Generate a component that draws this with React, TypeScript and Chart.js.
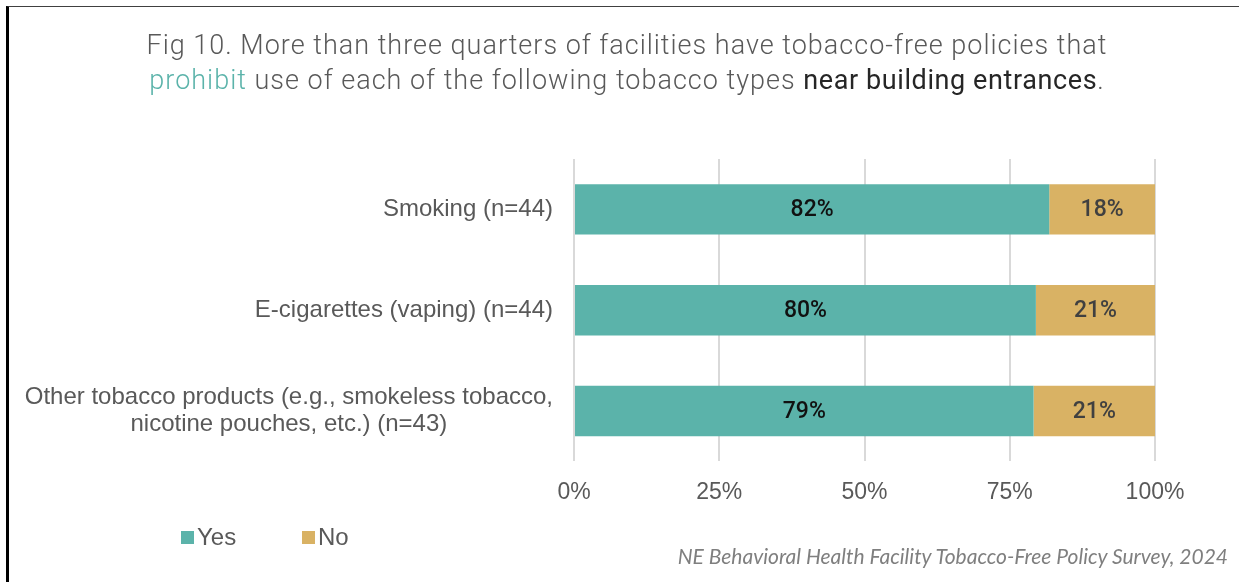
import React, { useEffect, useRef } from "react";
import { Chart, registerables } from "chart.js";

Chart.register(...registerables);

const categories: string[][] = [
  ["Smoking (n=44)"],
  ["E-cigarettes (vaping) (n=44)"],
  ["Other tobacco products (e.g., smokeless tobacco,", "nicotine pouches, etc.) (n=43)"],
];
const seriesNames = ["Yes", "No"];
const yesValues = [81.8, 79.5, 79.1];
const noValues = [18.2, 20.5, 20.9];
const yesLabels = ["82%", "80%", "79%"];
const noLabels = ["18%", "21%", "21%"];
const xTicks = [0, 25, 50, 75, 100];

const TEAL = "#5BB3AA";
const GOLD = "#D9B264";
const TEXT = "#595959";

const labelsPlugin = {
  id: "customLabels",
  afterDatasetsDraw(chart: any) {
    const ctx = chart.ctx;
    const valueLabels = [yesLabels, noLabels];
    const colors = ["#111111", "#404040"];
    ctx.save();
    ctx.textAlign = "center";
    ctx.textBaseline = "middle";
    ctx.font = "500 23px Roboto";
    chart.data.datasets.forEach((ds: any, di: number) => {
      const meta = chart.getDatasetMeta(di);
      meta.data.forEach((bar: any, i: number) => {
        ctx.fillStyle = colors[di];
        ctx.fillText(valueLabels[di][i], (bar.x + bar.base) / 2, bar.y + 1);
      });
    });
    ctx.restore();
  },
  afterDraw(chart: any) {
    const ctx = chart.ctx;
    const yScale = chart.scales.y;
    ctx.save();
    ctx.fillStyle = TEXT;
    ctx.font = "24px 'Liberation Sans', Arial, sans-serif";
    ctx.textBaseline = "middle";
    ctx.textAlign = "center";
    const rightEdge = chart.chartArea.left - 21;
    const lineH = 27;
    categories.forEach((lines, i) => {
      const yc = yScale.getPixelForValue(i);
      const widest = Math.max(...lines.map((l) => ctx.measureText(l).width));
      const cx = rightEdge - widest / 2;
      const y0 = yc - ((lines.length - 1) * lineH) / 2;
      lines.forEach((l, k) => ctx.fillText(l, cx, y0 + k * lineH));
    });
    // legend
    const legendX = [181, 302];
    ctx.font = "24px 'Liberation Sans', Arial, sans-serif";
    ctx.textAlign = "left";
    chart.data.datasets.forEach((ds: any, di: number) => {
      ctx.fillStyle = ds.backgroundColor;
      ctx.fillRect(legendX[di], 531, 13, 13);
      ctx.fillStyle = TEXT;
      ctx.fillText(ds.label, legendX[di] + 16, 538);
    });
    ctx.restore();
  },
};

export default function App() {
  const canvasRef = useRef<HTMLCanvasElement | null>(null);
  useEffect(() => {
    const chart = new Chart(canvasRef.current as HTMLCanvasElement, {
      type: "bar",
      data: {
        labels: categories.map((c) => c.join(" ")),
        datasets: [
          { label: seriesNames[0], data: yesValues, backgroundColor: TEAL, barPercentage: 0.5, categoryPercentage: 1 },
          { label: seriesNames[1], data: noValues, backgroundColor: GOLD, barPercentage: 0.5, categoryPercentage: 1 },
        ],
      },
      options: {
        indexAxis: "y",
        responsive: false,
        animation: false,
        layout: { padding: { left: 574, right: 84, top: 159, bottom: 58 } },
        plugins: { legend: { display: false }, tooltip: { enabled: false }, title: { display: false } },
        scales: {
          x: {
            stacked: true,
            min: 0,
            max: 100,
            afterBuildTicks: (scale: any) => {
              scale.ticks = xTicks.map((v) => ({ value: v }));
            },
            ticks: {
              callback: (v: any) => v + "%",
              color: TEXT,
              font: { family: "'Liberation Sans', Arial, sans-serif", size: 23 },
              padding: 17.5,
              maxRotation: 0,
            },
            grid: { color: "#D9D9D9", lineWidth: 2, drawTicks: false },
            border: { display: false },
          },
          y: {
            stacked: true,
            display: false,
          },
        },
      },
      plugins: [labelsPlugin],
    } as any);
    return () => chart.destroy();
  }, []);

  return (
    <div style={{ position: "fixed", left: 0, top: 0, width: 1239, height: 582, background: "#fff", overflow: "hidden" }}>
      <div
        style={{
          position: "absolute",
          left: 6,
          top: 6,
          right: 0,
          bottom: -10,
          borderLeft: "3px solid #000",
          borderTop: "1px solid #404040",
        }}
      />
      <canvas ref={canvasRef} width={1239} height={582} style={{ position: "absolute", left: 0, top: 0 }} />
      <div
        style={{
          position: "absolute",
          left: 0,
          width: 1254,
          top: 28,
          textAlign: "center",
          fontFamily: "Roboto, sans-serif",
          fontWeight: 300,
          fontSize: 27,
          letterSpacing: "1px",
          lineHeight: "35px",
          color: TEXT,
          whiteSpace: "nowrap",
        }}
      >
        <div>Fig 10. More than three quarters of facilities have tobacco-free policies that</div>
        <div>
          <span style={{ color: TEAL }}>prohibit</span> use of each of the following tobacco types{" "}
          <span style={{ fontWeight: 400, color: "#262626", letterSpacing: "0.6px" }}>near building entrances</span>.
        </div>
      </div>
      <div
        style={{
          position: "absolute",
          right: 11,
          top: 543,
          fontFamily: "Lato, sans-serif",
          fontStyle: "italic",
          fontSize: 21,
          color: "#7F7F7F",
          whiteSpace: "nowrap",
        }}
      >
        NE Behavioral Health Facility Tobacco-Free Policy Survey, 2024
      </div>
    </div>
  );
}
